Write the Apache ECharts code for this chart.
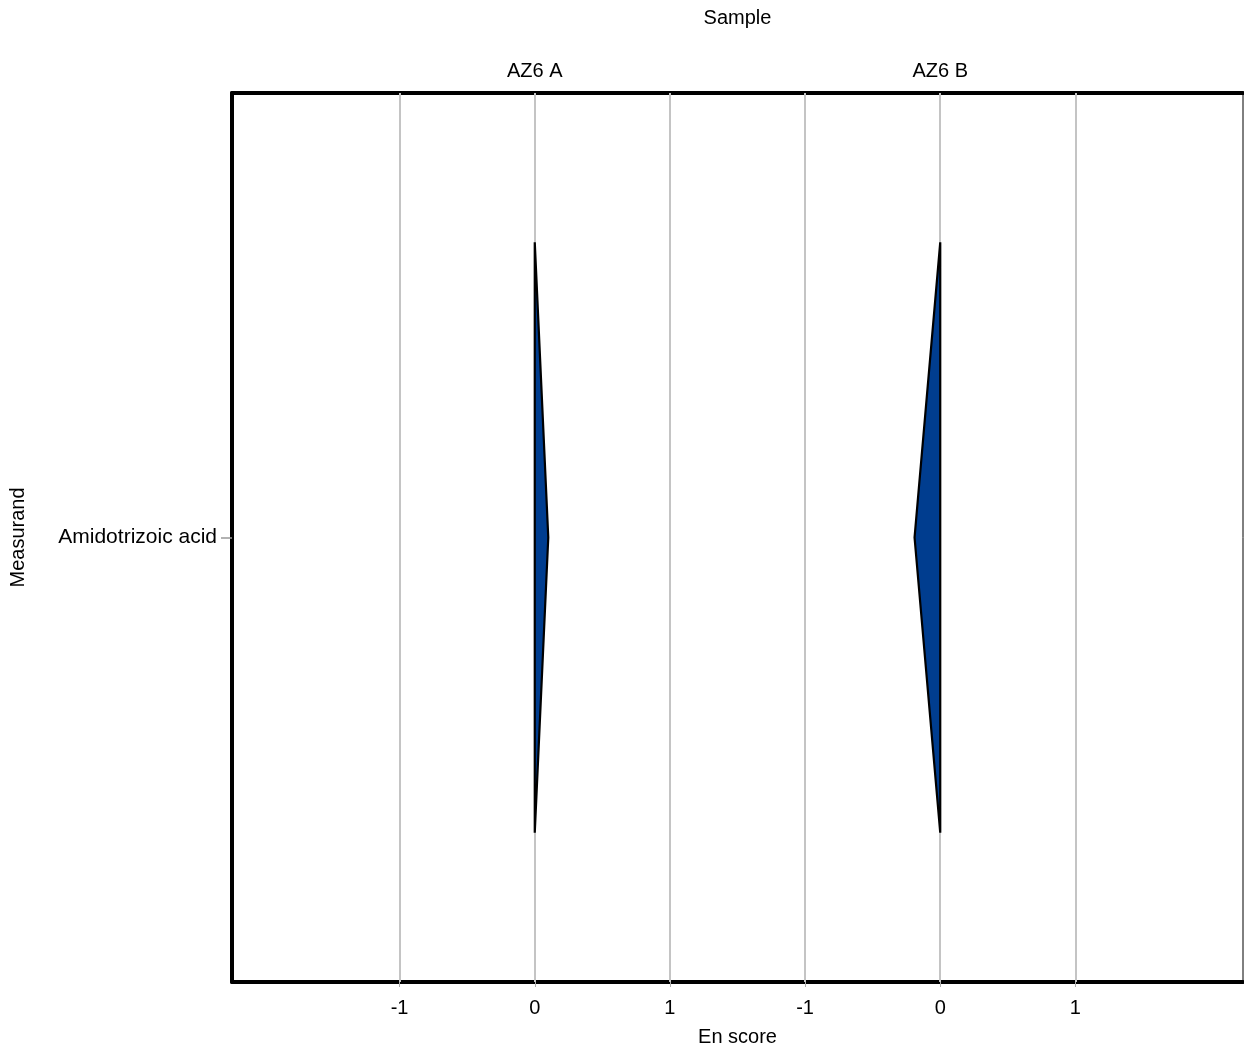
<!DOCTYPE html>
<html>
<head>
<meta charset="utf-8">
<script src="https://cdn.jsdelivr.net/npm/echarts@6/dist/echarts.min.js"></script>
<style>html,body{margin:0;padding:0;background:#fff}#c{width:1244px;height:1048px}</style>
</head>
<body>
<div id="c"></div>
<script>
// ---- data ----
const measurands = ['Amidotrizoic acid'];
const samples = ['AZ6 A', 'AZ6 B'];
const sampleOffsets = [0, 3];            // facet centres on shared x scale
const enScores = [0.1, -0.19];           // peak En score of each shape
const tickValues = [-1, 0, 1, 2, 3, 4];  // positions on shared scale
const tickLabels = ['-1', '0', '1', '-1', '0', '1'];

const FONT = 'Liberation Sans, Arial, sans-serif';
const chart = echarts.init(document.getElementById('c'), null, {renderer: 'canvas'});

const shapeData = samples.map((s, i) => [sampleOffsets[i], 0, enScores[i], s]);

chart.setOption({
  animation: false,
  backgroundColor: '#fff',
  textStyle: {fontFamily: FONT},
  grid: {left: 232, right: 1, top: 93, bottom: 66, containLabel: false, outerBoundsMode: 'none',
    show: true, borderColor: '#000', borderWidth: 1, backgroundColor: 'transparent'},
  xAxis: [
    {
      type: 'value', position: 'bottom', min: -2.24, max: 5.24,
      name: 'En score', nameLocation: 'middle', nameGap: 45,
      nameTextStyle: {fontSize: 20, color: '#000', fontFamily: FONT},
      axisLine: {show: true, onZero: false, lineStyle: {color: '#000', width: 4}},
      axisTick: {show: true, customValues: tickValues, length: 5, lineStyle: {color: '#aaa', width: 1}},
      axisLabel: {show: true, customValues: tickValues, fontSize: 20, color: '#000', margin: 16, fontFamily: FONT,
        formatter: v => tickLabels[tickValues.indexOf(Math.round(v))] },
      splitLine: {show: false}
    },
    {
      type: 'value', position: 'top', min: -2.24, max: 5.24,
      name: 'Sample', nameLocation: 'middle', nameGap: 65,
      nameTextStyle: {fontSize: 20, color: '#000', fontFamily: FONT},
      axisLine: {show: true, onZero: false, lineStyle: {color: '#000', width: 4}},
      axisTick: {show: false},
      axisLabel: {show: true, customValues: sampleOffsets, fontSize: 20, color: '#000', margin: 12, fontFamily: FONT,
        formatter: v => samples[sampleOffsets.indexOf(Math.round(v))] },
      splitLine: {show: false}
    }
  ],
  yAxis: {
    type: 'category', data: measurands,
    name: 'Measurand', nameLocation: 'middle', nameGap: 204, nameRotate: 90,
    nameTextStyle: {fontSize: 20, color: '#000', fontFamily: FONT},
    axisLine: {show: true, onZero: false, lineStyle: {color: '#000', width: 4}},
    axisTick: {show: true, alignWithLabel: true, length: 11, lineStyle: {color: '#999', width: 1.5}},
    axisLabel: {fontSize: 21, color: '#000', margin: 15, fontFamily: FONT},
    splitLine: {show: false}
  },
  series: [{
    type: 'custom',
    xAxisIndex: 0, yAxisIndex: 0,
    data: shapeData,
    encode: {x: 0, y: 1},
    z: 5,
    renderItem: function (params, api) {
      const off = api.value(0), cat = api.value(1), peak = api.value(2);
      const base = api.coord([off, cat]);
      const tip = api.coord([off + peak, cat]);
      const band = api.size([0, 1])[1];
      const h = band * 0.332;
      return {
        type: 'polygon',
        shape: {points: [[base[0], base[1] - h], [tip[0], base[1]], [base[0], base[1] + h]]},
        style: {fill: '#003d8f', stroke: '#000', lineWidth: 2.2, lineJoin: 'miter'}
      };
    },
    markLine: {
      silent: true, symbol: 'none', z: 1,
      label: {show: false},
      lineStyle: {color: '#c4c4c4', width: 2, type: 'solid'},
      data: tickValues.map(v => ({xAxis: v}))
    }
  }]
});
</script>
</body>
</html>
